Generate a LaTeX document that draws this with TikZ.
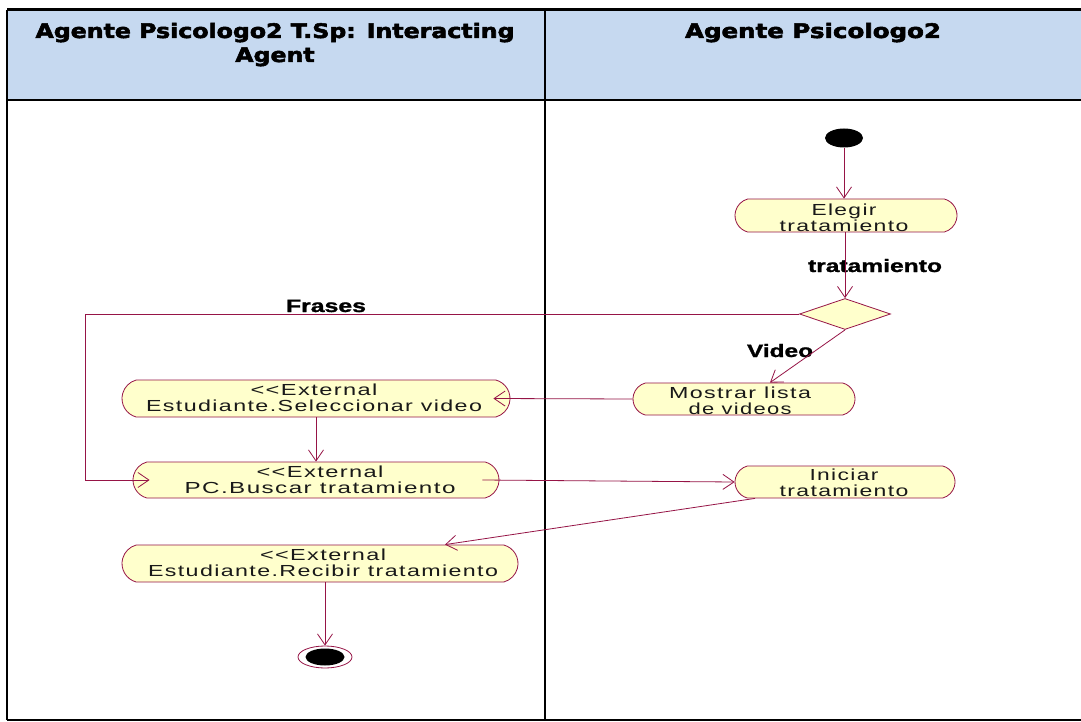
\documentclass[tikz,border=0pt]{standalone}
\usepackage{fontspec}
\setmainfont{Liberation Sans}
\newfontfamily\hdrfont{DejaVu Sans}[BoldFeatures={FakeBold=2.5}]
\newfontfamily\nodefont{Liberation Sans}[LetterSpace=6]
\newfontfamily\lblfont{Liberation Sans}[BoldFeatures={FakeBold=1.2}]
\usetikzlibrary{arrows.meta,shapes.misc,shapes.geometric}
\definecolor{hdrblue}{RGB}{198,217,240}
\definecolor{flowc}{RGB}{150,20,70}
\definecolor{actfill}{RGB}{255,255,204}
\definecolor{txtc}{RGB}{25,25,25}
\newsavebox\fitbox
\newcommand\fitw[2]{\sbox\fitbox{#2}\pgfmathsetmacro\fitsc{#1/\the\wd\fitbox}\global\let\lastsc\fitsc\scalebox{\fitsc}[1]{\usebox\fitbox}}
\newcommand\twol[4]{\begin{tabular}[t]{@{}c@{}}\fitw{#1}{#2}\\\fitw{#3}{#4}\end{tabular}}
\tikzset{
  act/.style={rounded rectangle, rounded rectangle arc length=150, draw=flowc, line width=0.8pt, fill=actfill, inner sep=0pt},
  tx/.style={anchor=base, inner sep=0pt, text=txtc, font=\nodefont\fontsize{16}{16}\selectfont},
  flow/.style={draw=flowc, line width=0.8pt, -{Straight Barb[length=11pt,width=15pt,line width=0.8pt]}},
  lbl/.style={font=\lblfont\bfseries\fontsize{18}{18}\selectfont, text=black, inner sep=0pt, anchor=base},
  hdr/.style={font=\hdrfont\bfseries\fontsize{20}{24}\selectfont, text=black, inner sep=0pt, anchor=base},
  frame/.style={draw=black, line width=1.2pt}
}
\begin{document}
\begin{tikzpicture}[x=1pt,y=-1pt]
\useasboundingbox (0,0) rectangle (1081,722);
\fill[white] (0,0) rectangle (1081,722);
% header
\fill[hdrblue] (7,10) rectangle (1081,100);
\draw[frame] (7,100) -- (1081,100);
\draw[frame] (7,10) -- (7,720);
\draw[frame] (545,10) -- (545,720);
\draw[frame] (7,720) -- (1081,720);
\draw[draw=black, line width=3pt] (7,10) -- (1081,10);
\node[hdr] (h1) at (275,38) {\fitw{479}{Agente Psicologo2 T.Sp: Interacting}};
\node[hdr] (h1b) at (275,62) {\scalebox{\lastsc}[1]{Agent}};
\node[hdr] (h2) at (813,38) {\fitw{256}{Agente Psicologo2}};
% shapes
\node[ellipse, fill=black, minimum width=38pt, minimum height=19pt, inner sep=0pt] (start) at (844,138) {};
\node[act, minimum width=222pt, minimum height=33pt] (elegir) at (846,215.5) {};
\node[diamond, draw=flowc, line width=0.8pt, fill=actfill, inner sep=0pt, minimum width=91pt, minimum height=31pt] (dia) at (845,314) {};
\node[act, minimum width=222pt, minimum height=32pt] (mostrar) at (744,399) {};
\node[act, minimum width=388pt, minimum height=37pt] (selec) at (316,398.5) {};
\node[act, minimum width=366pt, minimum height=36pt] (buscar) at (316,480) {};
\node[act, minimum width=220pt, minimum height=32pt] (iniciar) at (845,482) {};
\node[act, minimum width=396pt, minimum height=37pt] (recibir) at (320,563.5) {};
\node[ellipse, draw=flowc, line width=0.8pt, fill=white, minimum width=54pt, minimum height=22pt, inner sep=0pt] (final) at (325,657) {};
\node[ellipse, fill=black, minimum width=39pt, minimum height=17pt, inner sep=0pt] (finalin) at (325,657) {};
% activity texts
\node[tx] (elegirT) at (844,215) {\twol{65}{Elegir}{129}{tratamiento}};
\node[tx] (mostrarT) at (740,398) {\twol{142}{Mostrar lista}{103}{de videos}};
\node[tx] (selecT) at (314,395) {\twol{127}{<<External}{336}{Estudiante.Seleccionar video}};
\node[tx] (buscarT) at (320,477) {\twol{127}{<<External}{271}{PC.Buscar tratamiento}};
\node[tx] (iniciarT) at (844,480) {\twol{69}{Iniciar}{129}{tratamiento}};
\node[tx] (recibirT) at (323,560) {\twol{126}{<<External}{350}{Estudiante.Recibir tratamiento}};
% labels
\node[lbl] (ltrat) at (875,272) {\fitw{134}{tratamiento}};
\node[lbl] (lfrases) at (326,312) {\fitw{80}{Frases}};
\node[lbl] (lvideo) at (780,357) {\fitw{66}{Video}};
% connectors
\coordinate (fc1) at (85,314);
\draw[flow] (start.south) -- (start.south |- elegir.north);
\draw[flow] (dia.north |- elegir.south) -- (dia.north);
\draw[flow] (dia.west) -- (fc1) |- ([xshift=17pt]buscar.west);
\draw[flow] (dia.south) -- ([xshift=26pt]mostrar.north);
\draw[flow] (mostrar.west) -- ([xshift=-17pt]selec.east);
\draw[flow] (selec.south) -- (buscar.north);
\draw[flow] ([xshift=-17pt]buscar.east) -- (iniciar.west);
\draw[flow] ([xshift=-90pt]iniciar.south) -- ([xshift=125pt]recibir.north);
\draw[flow] (final.north |- recibir.south) -- (final.north);
\end{tikzpicture}
\end{document}
